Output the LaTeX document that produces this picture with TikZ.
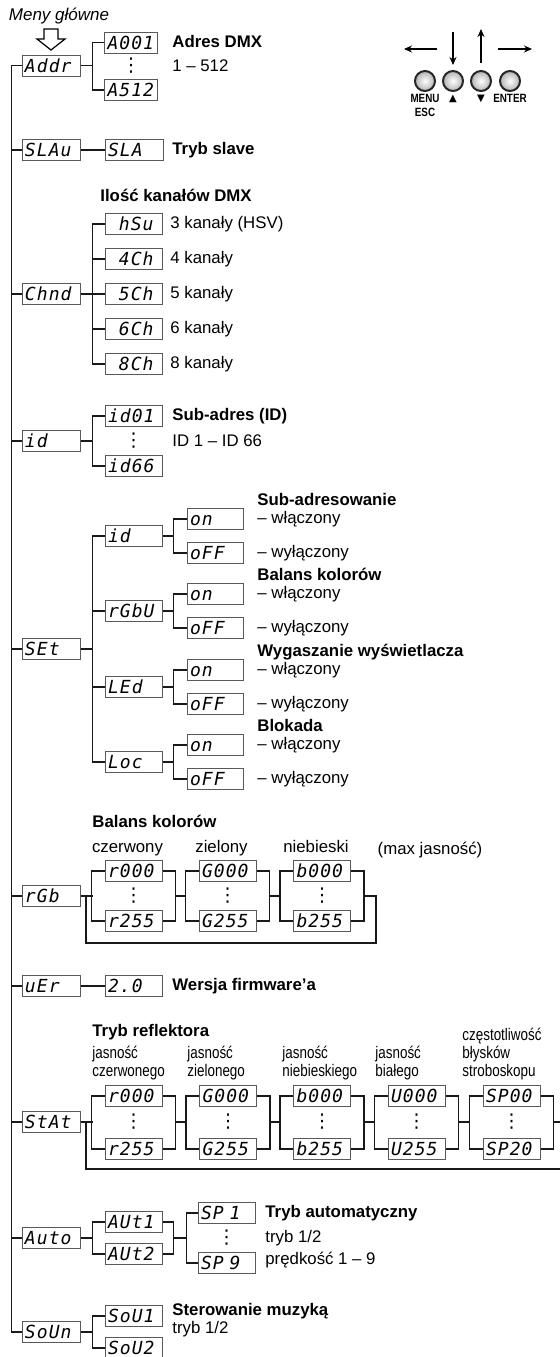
\documentclass[tikz,border=0pt]{standalone}
\usepackage{fontspec}
\setmainfont{Liberation Sans}
\newfontfamily\segfont[LetterSpace=6]{DejaVu Sans Mono}
\newfontfamily\narrowfont[FakeStretch=0.8]{Liberation Sans}
\newfontfamily\btnfont[FakeStretch=0.82]{Liberation Sans}
\newfontfamily\symfont{DejaVu Sans}
\usetikzlibrary{arrows.meta,calc}

\begin{document}
\begin{tikzpicture}[x=0.5pt,y=-0.5pt]
	\tikzstyle{wire}=[line width=0.75pt,black!90]
	\tikzstyle{disp}=[draw=black!65,line width=0.5pt,rectangle,fill=white,inner xsep=1.5pt,inner ysep=0pt,text width=25.5pt,align=left,minimum height=10.5pt,text height=6.6pt,text depth=0pt,font=\segfont\itshape\fontsize{9}{9}\selectfont]
	\tikzstyle{menu}=[disp,text width=26pt]
	\tikzstyle{lbl}=[anchor=west,inner sep=0pt,text height=6.2pt,text depth=1.6pt,font=\fontsize{8.4}{10}\selectfont]
	\tikzstyle{head}=[lbl,font=\bfseries\fontsize{8.4}{10}\selectfont]
	\tikzstyle{dots}=[inner sep=0pt,font=\symfont\fontsize{9.5}{9.5}\selectfont]
	\tikzstyle{sub}=[anchor=south west,inner sep=0pt,align=left,font=\narrowfont\fontsize{8.4}{9}\selectfont]
	\tikzstyle{btn}=[circle,draw=black!85,line width=1pt,minimum size=10pt,inner sep=0pt,inner color=white,outer color=black!30]
	\tikzstyle{key}=[anchor=north,inner sep=0pt,align=center,font=\btnfont\bfseries\fontsize{6}{7}\selectfont]
	\tikzstyle{arr}=[line width=0.6pt,-{Stealth[length=4pt,width=3.5pt]}]

	\useasboundingbox (0,0) rectangle (560,1357);
	\clip (0,0) rectangle (560,1357);

	% title and buttons
	\node[font=\itshape\fontsize{8.5}{10}\selectfont] (title) at (59,16) {Meny główne};
	\draw[line width=0.6pt,fill=white] (44,29) -- (58,29) -- (58,39) -- (65,39) -- (51,50) -- (37,39) -- (44,39) -- cycle;

	\foreach \i/\x in {1/425,2/453,3/481,4/510}
		\node[btn] (b\i) at (\x,81) {};
	\node[key] (kmenu) at (425,94) {MENU\\ESC};
	\node[key] (kup) at (453,95) {\symfont\fontsize{5}{5}\selectfont ▲};
	\node[key] (kdown) at (481,95) {\symfont\fontsize{5}{5}\selectfont ▼};
	\node[key] (kenter) at (510,94) {ENTER};
	\coordinate (la) at (437,49);
	\coordinate (lb) at (404,49);
	\coordinate (ra) at (498,49);
	\coordinate (rb) at (532,49);
	\draw[arr] (la) -- (lb);
	\draw[arr] (ra) -- (rb);
	\draw[arr] ($(b2.north)+(0,-38)$) -- ($(b2.north)+(0,-5)$);
	\draw[arr] ($(b3.north)+(0,-7)$) -- ($(b3.north)+(0,-41)$);

	% main menu
	\node[menu] (Addr) at (51,65.5) {Addr};
	\node[menu] (SLAu) at (51,150) {SLAu};
	\node[menu] (Chnd) at (51,294) {Chnd};
	\node[menu] (id) at (51,441) {id};
	\node[menu] (SEt) at (51,649) {SEt};
	\node[menu] (rGb) at (51,896) {rGb};
	\node[menu] (uEr) at (51,986) {uEr};
	\node[menu] (StAt) at (51,1122) {StAt};
	\node[menu] (Auto) at (51,1238) {Auto};
	\node[menu] (SoUn) at (51,1332) {SoUn};

	\draw[wire] (Addr.west) -- ++(-10,0) |- (SoUn.west);
	\foreach \m in {SLAu,Chnd,id,SEt,rGb,uEr,StAt,Auto}
		\draw[wire] (\m.west) -- ++(-10,0);

	% Addr
	\node[disp,text width=23.5pt] (A001) at (131,42.5) {A001};
	\node[dots] (Adots) at (131,66) {⋮};
	\node[disp,text width=23.5pt] (A512) at (131,90) {A512};
	\node[head] (tAddr) at (172,42.5) {Adres DMX};
	\node[lbl] (rAddr) at (172,67) {1 – 512};
	\foreach \c in {A001,A512}
		\draw[wire] (Addr.east) -- ++(12,0) |- (\c.west);

	% SLAu
	\node[disp,text width=26pt] (SLA) at (134,150) {SLA};
	\node[head] (tSLA) at (172,150) {Tryb slave};
	\draw[wire] (SLAu.east) -- (SLA.west);

	% Chnd
	\node[head] (tChnd) at (100,197) {Ilość kanałów DMX};
	\foreach \n/\t/\y in {hSu/3 kanały (HSV)/224, 4Ch/4 kanały/259, 5Ch/5 kanały/294, 6Ch/6 kanały/329, 8Ch/8 kanały/364} {
		\node[disp] (ch\n) at (133.5,\y) {\phantom{0}\n};
		\node[lbl] (lch\n) at (170,\y) {\t};
		\draw[wire] (Chnd.east) -- ++(12,0) |- (ch\n.west);
	}

	% id
	\node[disp] (id01) at (133.5,416) {id01};
	\node[dots] (iddots) at (133.5,441) {⋮};
	\node[disp] (id66) at (133.5,466) {id66};
	\node[head] (tid) at (172,416) {Sub-adres (ID)};
	\node[lbl] (rid) at (172,442) {ID 1 – ID 66};
	\foreach \c in {id01,id66}
		\draw[wire] (id.east) -- ++(12,0) |- (\c.west);

	% SEt
	\foreach \k/\n/\t/\y in {sid/id/Sub-adresowanie/536, srgb/rGbU/Balans kolorów/611, sled/LEd/Wygaszanie wyświetlacza/687, sloc/Loc/Blokada/762} {
		\node[disp] (\k) at (133.5,\y) {\n};
		\node[disp,text width=25pt] (\k-on) at (215,\y-17) {on};
		\node[disp,text width=25pt] (\k-off) at (215,\y+17) {oFF};
		\node[head] (t\k) at (257,\y-35) {\t};
		\node[lbl] (l\k-on) at (257,\y-17) {– włączony};
		\node[lbl] (l\k-off) at (257,\y+17) {– wyłączony};
		\draw[wire] (SEt.east) -- ++(12,0) |- (\k.west);
		\draw[wire] (\k.east) -- ++(11,0) |- (\k-on.west);
		\draw[wire] (\k.east) -- ++(11,0) |- (\k-off.west);
	}

	% rGb
	\node[head] (trgb) at (92,823) {Balans kolorów};
	\node[lbl,anchor=center] (lmax) at (430,850) {(max jasność)};
	\foreach \g/\p/\x/\t in {R/r/133.5/czerwony, G/G/227.5/zielony, B/b/322/niebieski} {
		\node[disp] (c\g0) at (\x,871) {\p000};
		\node[dots] (c\g d) at (\x,896) {⋮};
		\node[disp] (c\g1) at (\x,921) {\p255};
		\node[lbl,anchor=center] (lc\g) at (\x-6,848) {\t};
		\draw[wire] (c\g0.west) -- ++(-13,0) |- (c\g1.west);
		\draw[wire] (c\g0.east) -- ++(13,0) |- (c\g1.east);
	}
	\foreach \a/\b in {R/G,G/B}
		\draw[wire] ($(c\a d -| c\a0.east)+(13,0)$) -- ($(c\b d -| c\b0.west)+(-13,0)$);
	\draw[wire] (rGb.east) -- ++(12,0);
	\coordinate (rgbloop) at (86,943);
	\draw[wire] ($(cBd -| cB0.east)+(13,0)$) -- ++(12,0) |- (rgbloop) |- (rGb.east);

	% uEr
	\node[disp] (v20) at (133.5,986) {2.0};
	\node[head] (tver) at (172,986) {Wersja firmware’a};
	\draw[wire] (uEr.east) -- (v20.west);

	% StAt
	\node[head] (tstat) at (92,1032) {Tryb reflektora};
	\foreach \g/\p/\x/\lx/\t in {R/r/133.5/92/jasność\\czerwonego, G/G/228/187/jasność\\zielonego, B/b/322/282/jasność\\niebieskiego, U/U/416.5/375/jasność\\białego} {
		\node[disp] (s\g0) at (\x,1096) {\p000};
		\node[dots] (s\g d) at (\x,1122) {⋮};
		\node[disp] (s\g1) at (\x,1149) {\p255};
		\node[sub] (ls\g) at (\lx,1080) {\t};
	}
	\node[disp] (sS0) at (511.5,1096) {SP00};
	\node[dots] (sSd) at (511.5,1122) {⋮};
	\node[disp] (sS1) at (511.5,1149) {SP20};
	\node[sub] (lsS) at (462,1080) {częstotliwość\\błysków\\stroboskopu};
	\foreach \g in {R,G,B,U,S} {
		\draw[wire] (s\g0.west) -- ++(-13,0) |- (s\g1.west);
		\draw[wire] (s\g0.east) -- ++(13,0) |- (s\g1.east);
	}
	\foreach \a/\b in {R/G,G/B,B/U,U/S}
		\draw[wire] ($(s\a d -| s\a0.east)+(13,0)$) -- ($(s\b d -| s\b0.west)+(-13,0)$);
	\draw[wire] (StAt.east) -- ++(12,0);
	\coordinate (statloop) at (86,1169);
	\draw[wire] ($(sSd -| sS0.east)+(13,0)$) -- ++(14,0) |- (statloop) |- (StAt.east);

	% Auto
	\node[disp] (AUt1) at (133.5,1222) {AUt1};
	\node[disp] (AUt2) at (133.5,1254) {AUt2};
	\node[disp] (SP1) at (226.5,1213) {SP 1};
	\node[dots] (spdots) at (226.5,1238) {⋮};
	\node[disp] (SP9) at (226.5,1263) {SP 9};
	\node[head] (tauto) at (265,1213) {Tryb automatyczny};
	\node[lbl] (lauto1) at (265,1238) {tryb 1/2};
	\node[lbl] (lauto2) at (265,1260) {prędkość 1 – 9};
	\foreach \c in {AUt1,AUt2}
		\draw[wire] (Auto.east) -- ++(12,0) |- (\c.west);
	\draw[wire] (AUt1.east) -- ++(11,0) |- (AUt2.east);
	\coordinate (spfork) at ($(Auto -| SP1.west)+(-11,0)$);
	\draw[wire] ($(Auto -| AUt1.east)+(11,0)$) -- (spfork);
	\draw[wire] (SP1.west) -| (spfork) |- (SP9.west);

	% SoUn
	\node[disp] (SoU1) at (133.5,1316) {SoU1};
	\node[disp] (SoU2) at (133.5,1348) {SoU2};
	\node[head] (tsoun) at (172,1311) {Sterowanie muzyką};
	\node[lbl] (lsoun) at (172,1329) {tryb 1/2};
	\foreach \c in {SoU1,SoU2}
		\draw[wire] (SoUn.east) -- ++(12,0) |- (\c.west);
\end{tikzpicture}
\end{document}
